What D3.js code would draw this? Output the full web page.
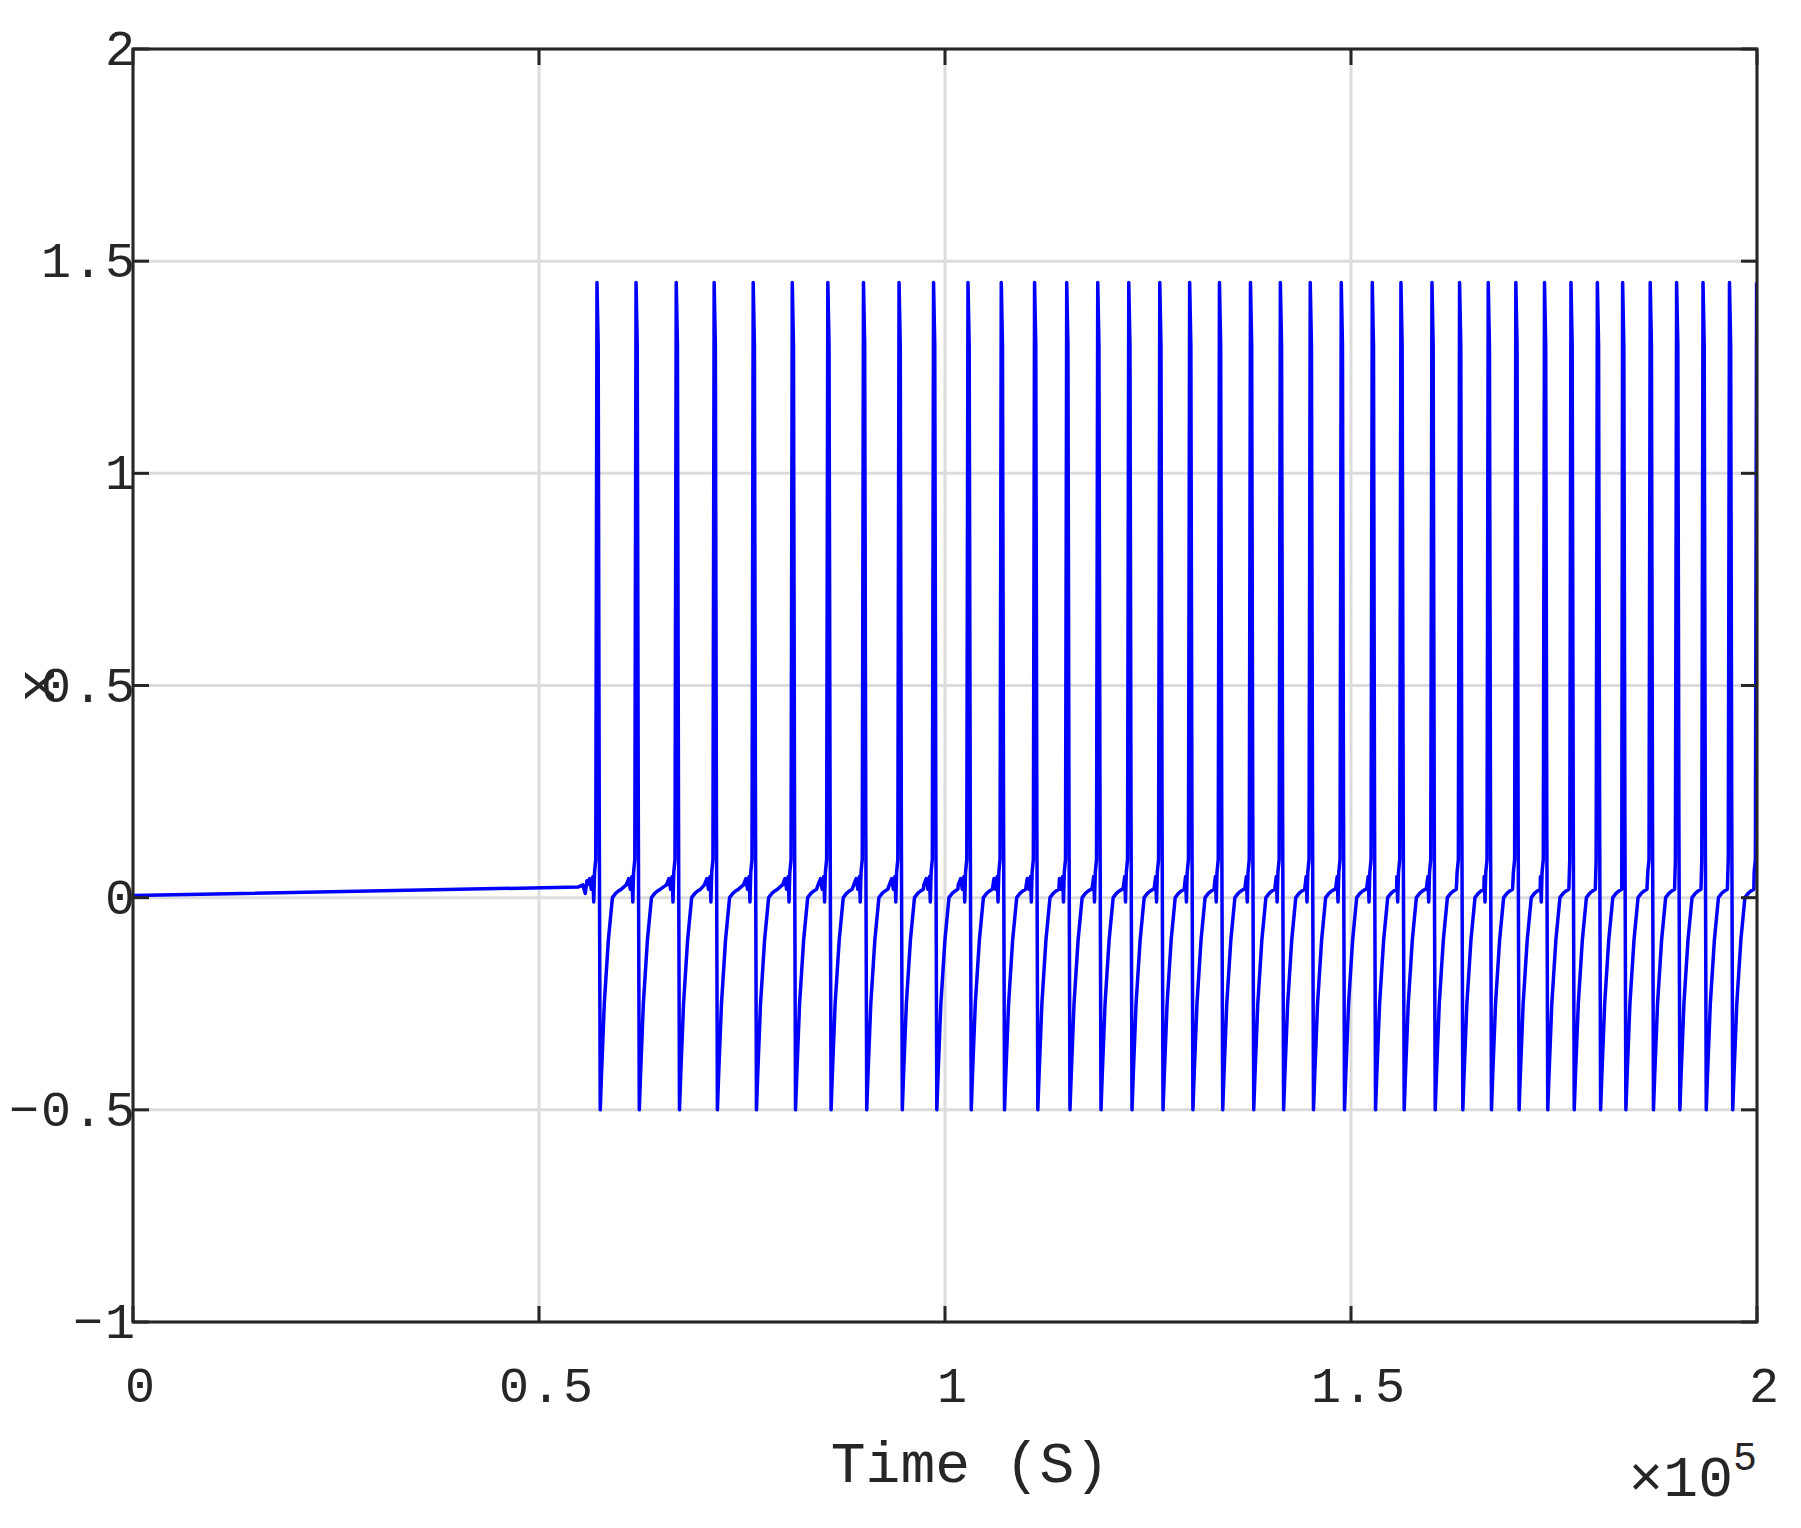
<!DOCTYPE html><html><head><meta charset="utf-8"><script src="https://cdn.jsdelivr.net/npm/d3@7"></script>
<style>body{margin:0;background:#fff}text{font-family:"Liberation Mono","DejaVu Sans Mono",monospace;fill:#262626}</style></head><body>
<svg id="c" width="1801" height="1528"></svg>
<script>
const xTicks=[0,0.5,1,1.5,2];
const xTickLabels=["0","0.5","1","1.5","2"];
const yTicks=[-1,-0.5,0,0.5,1,1.5,2];
const yTickLabels=["-1","-0.5","0","0.5","1","1.5","2"];
// spike times (units of 1e5 s)
const spikeTimes=[0.5714,0.6195,0.669,0.7157,0.7638,0.8119,0.8557,0.8996,0.9434,0.9859,1.0283,1.0693,1.1103,1.1499,1.1881,1.2263,1.2645,1.3013,1.338,1.3762,1.413,1.4498,1.488,1.5262,1.5615,1.5997,1.6337,1.669,1.703,1.7383,1.7709,1.8034,1.8345,1.8685,1.901,1.9335,1.9661,1.9995];
// waveform around each spike: offset (1e5 s) and value
const shapeDt=[-0.012,-0.009,-0.007,-0.005,-0.004,-0.003,-0.0015,0,0.0015,0.0028,0.004,0.0055,0.009,0.014,0.019,0.023,0.026,0.03];
const shapeY=[0.03,0.045,0.02,0.05,-0.01,0.06,0.09,1.45,1.3,0.2,-0.5,-0.42,-0.25,-0.1,0.0,0.01,0.015,0.02];
const preStart=[[0,0.005],[0.548,0.025],[0.554,0.03],[0.557,0.01],[0.559,0.04]];

const L=133,R=1757,T=49,B=1322;
const x=d3.scaleLinear().domain([0,2]).range([L,R]);
const y=d3.scaleLinear().domain([-1,2]).range([B,T]);
const svg=d3.select("#c");
const g=svg.append("g");
g.selectAll(".gx").data(xTicks).join("line").attr("x1",d=>x(d)).attr("x2",d=>x(d)).attr("y1",T).attr("y2",B).attr("stroke","#dcdcdc").attr("stroke-width",3);
g.selectAll(".gy").data(yTicks).join("line").attr("y1",d=>y(d)).attr("y2",d=>y(d)).attr("x1",L).attr("x2",R).attr("stroke","#dcdcdc").attr("stroke-width",3);

let pts=preStart.map(p=>p.slice());
spikeTimes.forEach(s=>{shapeDt.forEach((d,i)=>{const t=s+d;if(t<=2&&t>pts[pts.length-1][0])pts.push([t,shapeY[i]]);});});
svg.append("defs").append("clipPath").attr("id","cp").append("rect").attr("x",L).attr("y",T).attr("width",R-L).attr("height",B-T);
svg.append("path").datum(pts).attr("clip-path","url(#cp)").attr("fill","none").attr("stroke","#0000ff").attr("stroke-width",3.5).attr("stroke-linejoin","round")
 .attr("d",d3.line().x(d=>x(d[0])).y(d=>y(d[1])));

const ax=svg.append("g").attr("stroke","#262626").attr("stroke-width",3);
ax.append("rect").attr("x",L).attr("y",T).attr("width",R-L).attr("height",B-T).attr("fill","none");
xTicks.forEach(d=>{ax.append("line").attr("x1",x(d)).attr("x2",x(d)).attr("y1",B).attr("y2",B-16);ax.append("line").attr("x1",x(d)).attr("x2",x(d)).attr("y1",T).attr("y2",T+16);});
yTicks.forEach(d=>{ax.append("line").attr("y1",y(d)).attr("y2",y(d)).attr("x1",L).attr("x2",L+16);ax.append("line").attr("y1",y(d)).attr("y2",y(d)).attr("x1",R).attr("x2",R-16);});

const fs=50;
svg.selectAll(".xl").data(xTicks).join("text").attr("x",d=>x(d)+8).attr("y",B+80).attr("text-anchor","middle").attr("font-size",fs).attr("letter-spacing",2).text((d,i)=>xTickLabels[i]);
svg.selectAll(".yl").data(yTicks).join("text").attr("x",L+4).attr("y",d=>y(d)+16).attr("text-anchor","end").attr("font-size",fs).attr("letter-spacing",2).text((d,i)=>yTickLabels[i].replace("-","\u2212"));
svg.append("text").attr("x",(L+R)/2+25).attr("y",1482).attr("text-anchor","middle").attr("font-size",58).text("Time (S)");
svg.append("text").attr("transform",`translate(54,${y(0.5)}) rotate(-90)`).attr("text-anchor","middle").attr("font-size",56).text("x");
const ex=svg.append("text").attr("x",R).attr("y",1496).attr("text-anchor","end").attr("font-size",58);
ex.append("tspan").text("\u00d710");
ex.append("tspan").attr("dy",-26).attr("font-size",40).text("5");
</script></body></html>
